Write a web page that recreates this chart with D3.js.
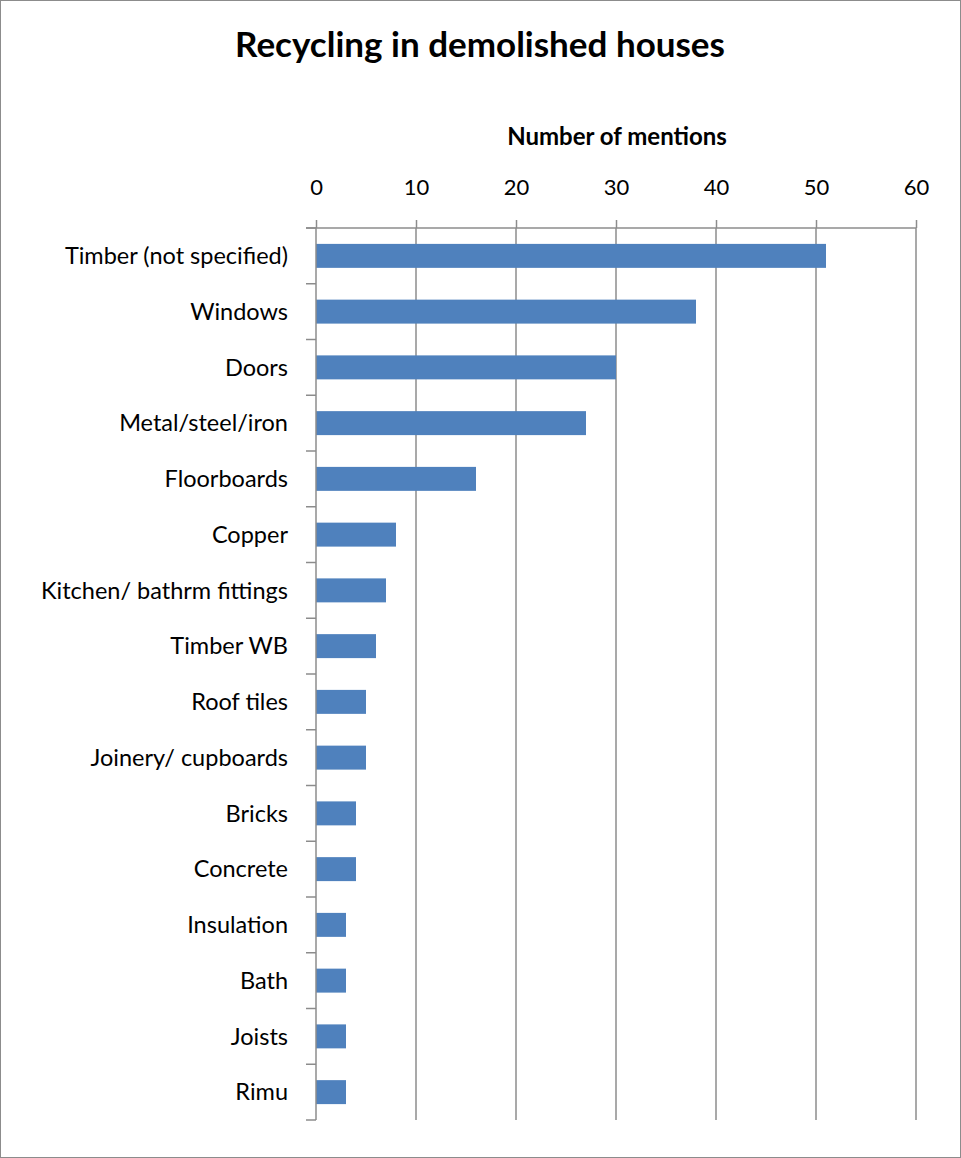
<!DOCTYPE html>
<html lang="en">
<head>
<meta charset="utf-8">
<title>Recycling in demolished houses</title>
<script src="https://cdn.jsdelivr.net/npm/d3@7"></script>
<style>
  body { margin: 0; background: #fff; }
  text { font-family: Lato, "Open Sans", sans-serif; fill: #000; }
</style>
</head>
<body>
<script>
// data
var categories = ["Timber (not specified)", "Windows", "Doors", "Metal/steel/iron", "Floorboards",
    "Copper", "Kitchen/ bathrm fittings", "Timber WB", "Roof tiles", "Joinery/ cupboards",
    "Bricks", "Concrete", "Insulation", "Bath", "Joists", "Rimu"];
var mentions = [51, 38, 30, 27, 16, 8, 7, 6, 5, 5, 4, 4, 3, 3, 3, 3];
var xTicks = [0, 10, 20, 30, 40, 50, 60];

var w = 961, h = 1158;
var plotLeft = 316, plotRight = 916, plotTop = 228, plotBottom = 1120;
var gridColor = "#8c8c8c";

var svg = d3.select("body").append("svg")
    .attr("width", w)
    .attr("height", h);

// outer frame
svg.append("rect")
    .attr("x", 0.5).attr("y", 0.5)
    .attr("width", w - 1).attr("height", h - 1)
    .attr("fill", "#fff")
    .attr("stroke", gridColor);

var xScale = d3.scaleLinear().domain([0, 60]).range([plotLeft, plotRight]);
var yScale = d3.scaleBand().domain(categories).range([plotTop, plotBottom])
    .paddingInner(0.57).paddingOuter(0.285);

// vertical gridlines
svg.append("g").selectAll("line")
    .data(xTicks.slice(1))
    .enter().append("line")
    .attr("x1", function (d) { return xScale(d); })
    .attr("x2", function (d) { return xScale(d); })
    .attr("y1", plotTop)
    .attr("y2", plotBottom)
    .attr("stroke", gridColor)
    .attr("stroke-width", 1.5);

// bars
svg.append("g").selectAll("rect")
    .data(mentions)
    .enter().append("rect")
    .attr("x", xScale(0))
    .attr("y", function (d, i) { return yScale(categories[i]); })
    .attr("width", function (d) { return xScale(d) - xScale(0); })
    .attr("height", yScale.bandwidth())
    .attr("fill", "#4f81bd");

// top axis
var xAxis = svg.append("g")
    .attr("transform", "translate(0," + plotTop + ")")
    .call(d3.axisTop(xScale).tickValues(xTicks).tickSize(8).tickPadding(25).tickSizeOuter(0));
xAxis.select(".domain").remove();
xAxis.append("line")
    .attr("x1", plotLeft - 10).attr("x2", plotRight)
    .attr("stroke", gridColor).attr("stroke-width", 1.5);
xAxis.selectAll(".tick line").attr("stroke", gridColor).attr("stroke-width", 1.5);
xAxis.selectAll(".tick text")
    .attr("font-size", "22px")
    .attr("fill", "#000")
    .style("font-family", "Lato, sans-serif");

// left axis: line plus ticks on band boundaries
var yAxis = svg.append("g");
yAxis.append("line")
    .attr("x1", plotLeft).attr("x2", plotLeft)
    .attr("y1", plotTop).attr("y2", plotBottom)
    .attr("stroke", gridColor).attr("stroke-width", 1.5);
var step = (plotBottom - plotTop) / categories.length;
yAxis.selectAll("line.tk")
    .data(d3.range(categories.length + 1))
    .enter().append("line")
    .attr("class", "tk")
    .attr("x1", plotLeft - 10).attr("x2", plotLeft)
    .attr("y1", function (d) { return plotTop + d * step; })
    .attr("y2", function (d) { return plotTop + d * step; })
    .attr("stroke", gridColor).attr("stroke-width", 1.5);
yAxis.selectAll("text")
    .data(categories)
    .enter().append("text")
    .attr("x", plotLeft - 28)
    .attr("y", function (d) { return yScale(d) + yScale.bandwidth() / 2; })
    .attr("dy", "0.35em")
    .attr("text-anchor", "end")
    .attr("font-size", "23.5px")
    .text(function (d) { return d; });

// titles
svg.append("text")
    .attr("x", 480).attr("y", 57)
    .attr("text-anchor", "middle")
    .attr("font-size", "35px")
    .attr("font-weight", "bold")
    .text("Recycling in demolished houses");

svg.append("text")
    .attr("x", (plotLeft + plotRight) / 2 + 1).attr("y", 145)
    .attr("text-anchor", "middle")
    .attr("font-size", "24px")
    .attr("font-weight", "bold")
    .text("Number of mentions");
</script>
</body>
</html>
